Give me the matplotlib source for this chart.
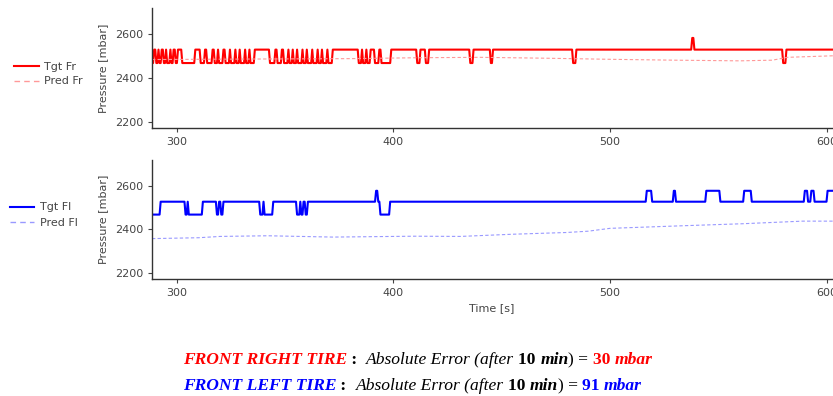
import numpy as np
import matplotlib
matplotlib.use('Agg')
from matplotlib import pyplot as plt
from matplotlib.lines import Line2D

# levels (mbar)
fr_high, fr_low, fr_peak = 2529, 2468, 2582
fl_high, fl_low, fl_peak = 2527, 2468, 2577

# front right target: intervals (s) where the signal drops to the low level
fr_lows = [(288.5, 289.3), (290.2, 291.0), (292.0, 292.8), (293.8, 294.6), (295.5, 296.5),
           (297.5, 298.3), (299.3, 300.3), (302.3, 308.3), (311.0, 312.5), (314.0, 316.0),
           (317.5, 318.5), (319.5, 321.0), (322.5, 324.0), (325.0, 326.5), (327.5, 328.5),
           (329.5, 331.0), (332.0, 333.0), (334.0, 335.5), (343.0, 345.0), (346.5, 348.0),
           (349.5, 351.0), (352.0, 353.0), (354.0, 355.0), (356.0, 357.5), (358.5, 359.5),
           (360.5, 362.0), (363.0, 364.5), (365.5, 366.5), (367.5, 369.0), (370.0, 371.5),
           (384.0, 385.0), (386.0, 387.0), (388.0, 389.0), (391.5, 393.0), (394.5, 398.5),
           (411.0, 412.0), (415.0, 416.0), (435.3, 436.8), (444.8, 445.8), (483.0, 484.0),
           (580.0, 581.0)]
fr_peaks = [(537.6, 538.6)]

# front left target
fl_lows = [(288.5, 292.0), (303.7, 304.5), (305.2, 311.5), (318.5, 319.3), (320.2, 321.2),
           (338.3, 339.5), (340.3, 344.3), (355.5, 356.5), (357.3, 358.2), (359.2, 360.4),
           (393.8, 398.2)]
fl_peaks = [(391.6, 392.6), (517.0, 519.2), (529.2, 530.4), (544.3, 550.8), (562.0, 565.0),
            (590.0, 591.4), (592.6, 594.4), (600.5, 603.5)]

# predictions
pred_fr_t = [288.5, 330, 380, 410, 440, 470, 500, 530, 560, 575, 582, 603]
pred_fr_p = [2484, 2486, 2488, 2492, 2494, 2490, 2485, 2481, 2478, 2481, 2494, 2501]
pred_fl_t = [288.5, 310, 320, 342, 372, 410, 431, 455, 480, 490, 500, 534, 561, 589, 603]
pred_fl_p = [2358, 2362, 2368, 2371, 2365, 2369, 2368, 2378, 2386, 2392, 2405, 2417, 2426, 2438, 2438]

t = np.arange(288.5, 603.6, 0.5)


def build(high, low, peak, lows, peaks):
    y = np.full(t.shape, float(high))
    for a, b in lows:
        y[(t >= a) & (t <= b)] = low
    for a, b in peaks:
        y[(t >= a) & (t <= b)] = peak
    return y


tgt_fr = build(fr_high, fr_low, fr_peak, fr_lows, fr_peaks)
tgt_fl = build(fl_high, fl_low, fl_peak, fl_lows, fl_peaks)

W, H = 833, 396
fig = plt.figure(figsize=(W / 100, H / 100), dpi=100)
gray = '#444444'


def setup(ax):
    ax.set_xlim(288.5, 603)
    ax.set_ylim(2173, 2718)
    ax.set_xticks([300, 400, 500, 600])
    ax.set_yticks([2200, 2400, 2600])
    for s in ['top', 'right']:
        ax.spines[s].set_visible(False)
    for s in ['left', 'bottom']:
        ax.spines[s].set_color('#333333')
        ax.spines[s].set_linewidth(1.0)
    ax.tick_params(colors=gray, labelsize=8, length=3, width=0.8, direction='out')
    for lab in ax.get_xticklabels() + ax.get_yticklabels():
        lab.set_color(gray)
    ax.set_ylabel('Pressure [mbar]', fontsize=8, color=gray, labelpad=5)


ax1 = fig.add_axes([152 / W, 1 - 128 / H, (W - 152) / W, 120 / H])
ax1.plot(t, tgt_fr, color='red', lw=1.5)
ax1.plot(pred_fr_t, pred_fr_p, color='#ff9999', lw=0.8, ls=(0, (3, 2)))
setup(ax1)

ax2 = fig.add_axes([152 / W, 1 - 279 / H, (W - 152) / W, 119 / H])
ax2.plot(t, tgt_fl, color='blue', lw=1.5)
ax2.plot(pred_fl_t, pred_fl_p, color='#9999ff', lw=0.8, ls=(0, (3, 2)))
setup(ax2)
ax2.set_xlabel('Time [s]', fontsize=8, color=gray)
ax2.xaxis.set_label_coords((492 - 152) / (W - 152), -0.2)

h1 = [Line2D([], [], color='red', lw=1.5),
      Line2D([], [], color='#ff9999', lw=1.0, ls=(0, (4, 3)))]
fig.legend(h1, ['Tgt Fr', 'Pred Fr'], loc='center left', bbox_to_anchor=(0.005, 1 - 74 / H),
           frameon=False, fontsize=8, labelcolor=gray, handlelength=2.2, handletextpad=0.5,
           labelspacing=0.45)
h2 = [Line2D([], [], color='blue', lw=1.5),
      Line2D([], [], color='#9999ff', lw=1.0, ls=(0, (4, 3)))]
fig.legend(h2, ['Tgt Fl', 'Pred Fl'], loc='center left', bbox_to_anchor=(0.0, 1 - 215 / H),
           frameon=False, fontsize=8, labelcolor=gray, handlelength=2.2, handletextpad=0.5,
           labelspacing=0.45)

# summary lines below the charts
serif = 'Liberation Serif'
rows = [
    [('FRONT RIGHT TIRE', 'red', 'bold', 'italic'), (' :  ', 'black', 'bold', 'normal'),
     ('Absolute Error (after ', 'black', 'normal', 'italic'),
     ('10 ', 'black', 'bold', 'normal'), ('min', 'black', 'bold', 'italic'),
     (') = ', 'black', 'normal', 'normal'), ('30 ', 'red', 'bold', 'normal'),
     ('mbar', 'red', 'bold', 'italic')],
    [('FRONT LEFT TIRE', 'blue', 'bold', 'italic'), (' :  ', 'black', 'bold', 'normal'),
     ('Absolute Error (after ', 'black', 'normal', 'italic'),
     ('10 ', 'black', 'bold', 'normal'), ('min', 'black', 'bold', 'italic'),
     (') = ', 'black', 'normal', 'normal'), ('91 ', 'blue', 'bold', 'normal'),
     ('mbar', 'blue', 'bold', 'italic')],
]
row_y = [1 - 364 / H, 1 - 390 / H]
for parts, yy in zip(rows, row_y):
    last = None
    for txt, col, wt, st in parts:
        if last is None:
            last = fig.text(183 / W, yy, txt, color=col, fontweight=wt, fontstyle=st,
                            family=serif, fontsize=12.6, va='baseline')
        else:
            last = fig.add_artist(matplotlib.text.Annotation(
                txt, xy=(1, 0), xycoords=last, va='bottom', ha='left', color=col,
                fontweight=wt, fontstyle=st, family=serif, fontsize=12.6,
                annotation_clip=False))

fig.savefig('out.png', dpi=100)
